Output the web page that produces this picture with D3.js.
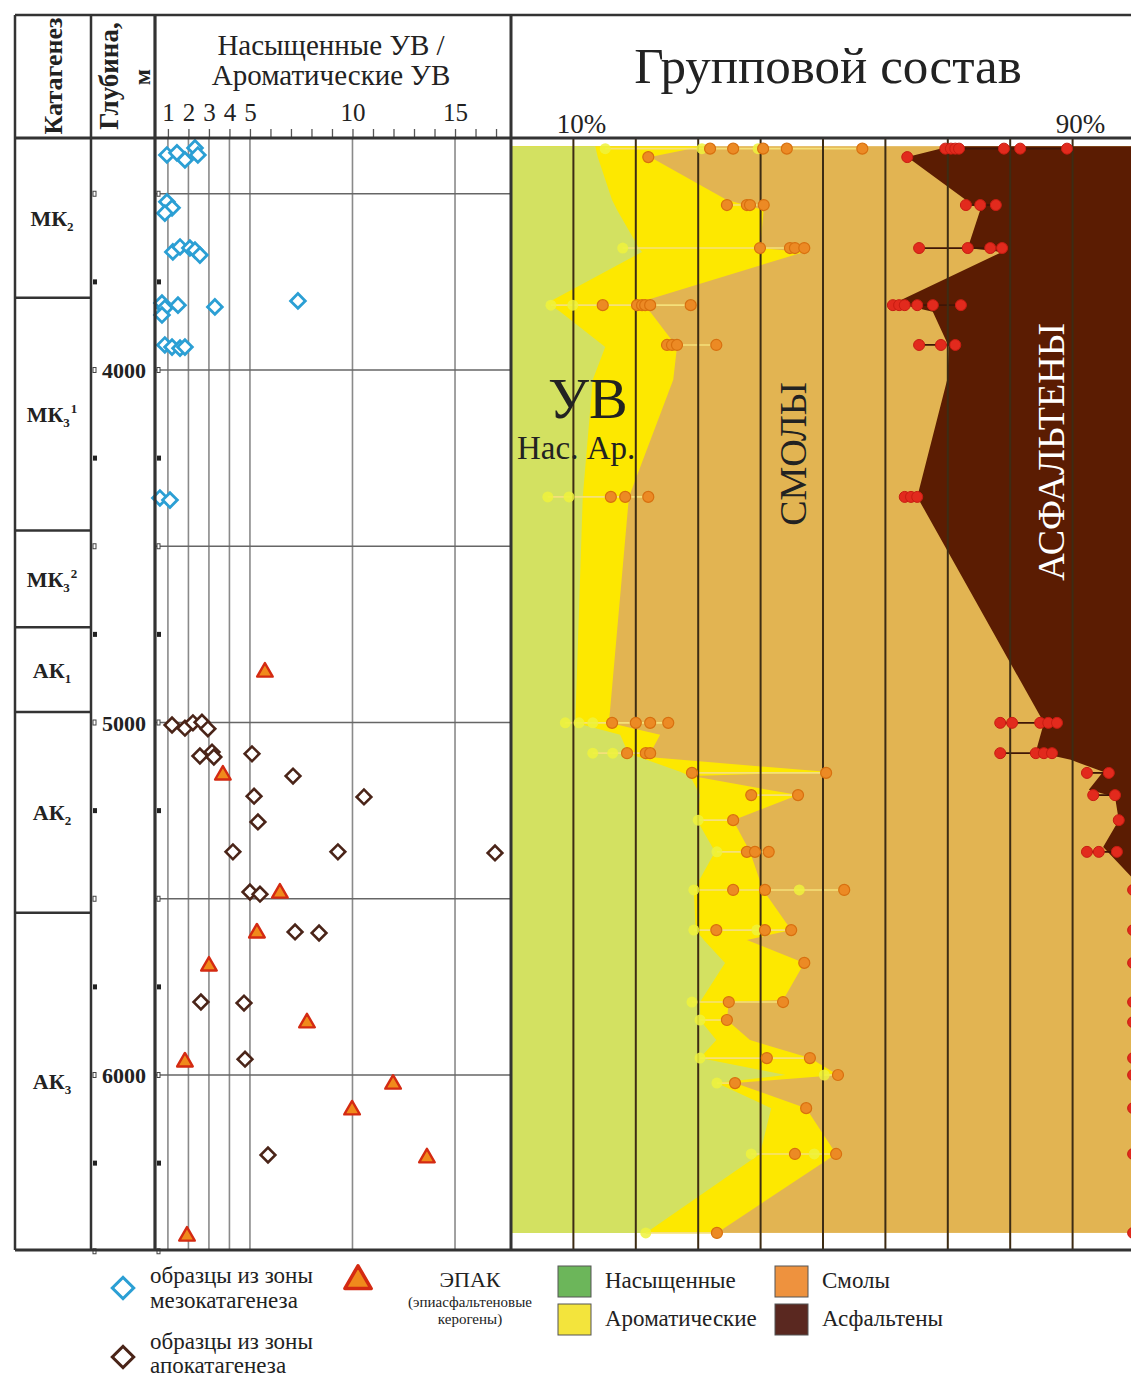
<!DOCTYPE html>
<html>
<head>
<meta charset="utf-8">
<script src="https://cdn.jsdelivr.net/npm/d3@7"></script>
<style>
  body { margin: 0; background: #fff; }
  svg { display: block; }
  text { font-family: "Liberation Serif", "Times New Roman", serif; fill: #222; }
</style>
</head>
<body>
<svg id="chart" width="1131" height="1377"></svg>
<script>
// ---- Catagenesis zones (depth, m) ----
const zoneTop    = [3341, 3795, 4455, 4730, 4970, 5540];
const zoneBottom = [3795, 4455, 4730, 4970, 5540, 6496];
const zoneBase   = ["МК", "МК", "МК", "АК", "АК", "АК"];
const zoneSub    = ["2", "3", "3", "1", "2", "3"];
const zoneSup    = ["", "1", "2", "", "", ""];

// ---- Axis ticks ----
const depthLabels = [4000, 5000, 6000];
const depthMarks  = [3500, 3750, 4000, 4250, 4500, 4750, 5000, 5250, 5500, 5750, 6000, 6250, 6500];
const depthGrid   = [3500, 4000, 4500, 5000, 5500, 6000];
const ratioTicks  = [1, 2, 3, 4, 5, 6, 7, 8, 9, 10, 11, 12, 13, 14, 15, 16, 17];
const ratioLabels = [1, 2, 3, 4, 5, 10, 15];
const ratioGrid   = [1, 2, 3, 4, 5, 10, 15];
const pctGrid     = [10, 20, 30, 40, 50, 60, 70, 80, 90];
const pctLabels   = [10, 90];

// ---- Saturated / aromatic HC ratio: [depth m, ratio] ----
const mesoSamples = [
  [3390, 0.95], [3384, 1.44], [3404, 1.83], [3370, 2.32], [3390, 2.46],
  [3523, 0.95], [3540, 1.20], [3555, 0.85],
  [3665, 1.24], [3651, 1.59], [3654, 2.07], [3660, 2.32], [3674, 2.56],
  [3810, 0.71], [3824, 0.85], [3844, 0.71], [3816, 1.49], [3821, 3.29], [3804, 7.34],
  [3929, 0.85], [3935, 1.20], [3938, 1.59], [3935, 1.83],
  [4363, 0.61], [4369, 1.10]
];
const apoSamples = [
  [5007, 1.20], [5016, 1.83], [5001, 2.22], [4999, 2.66], [5018, 2.95],
  [5095, 2.56], [5084, 3.15], [5098, 3.24], [5089, 5.10],
  [5152, 7.10], [5209, 5.20], [5211, 10.56], [5282, 5.39],
  [5367, 4.17], [5367, 9.29], [5370, 16.95],
  [5481, 5.00], [5487, 5.49], [5594, 7.20], [5597, 8.37],
  [5793, 2.61], [5796, 4.71], [5955, 4.76], [6227, 5.88]
];
const epakSamples = [
  [4857, 5.73], [5149, 3.68], [5484, 6.46], [5597, 5.34], [5691, 3.00],
  [5852, 7.78], [5963, 1.83], [6026, 11.98], [6099, 9.98], [6235, 13.63], [6457, 1.93]
];

// ---- Group composition, cumulative % boundaries: [depth m, %] ----
// saturates
const satEdge = [
  [3365, 13.5], [3396, 13.9], [3518, 16.2], [3546, 17.0], [3654, 20.5], [3665, 21.0],
  [3810, 5.8], [3835, 7.9], [3935, 15.1], [4028, 13.1], [4360, 11.5], [5001, 10.3],
  [5035, 17.5], [5087, 18.8], [5140, 27.1], [5152, 28.7], [5206, 30.3], [5277, 29.8],
  [5367, 32.7], [5475, 29.3], [5589, 29.6], [5617, 30.9], [5682, 34.3], [5793, 30.3],
  [5844, 30.3], [5901, 32.9], [5952, 30.3], [6000, 44.0], [6023, 33.0], [6094, 41.7],
  [6224, 39.9], [6448, 21.6]
];
// saturates + aromatics
const aroEdge = [
  [3365, 30.8], [3396, 22.3], [3518, 34.6], [3546, 40.5], [3654, 39.9], [3665, 47.0],
  [3810, 20.2], [3835, 22.3], [3935, 26.6], [4028, 26.0], [4360, 18.9], [5001, 15.7],
  [5035, 23.9], [5087, 22.3], [5098, 22.0], [5140, 50.5], [5152, 29.0], [5206, 46.0],
  [5277, 35.6], [5367, 38.3], [5475, 40.4], [5589, 44.9], [5617, 37.8], [5682, 47.0],
  [5787, 43.6], [5793, 34.9], [5844, 34.6], [5901, 38.3], [5952, 47.9], [6000, 52.4],
  [6023, 35.9], [6094, 47.3], [6224, 52.1], [6448, 33.0]
];
// saturates + aromatics + resins
const resEdge = [
  [3365, 70.4], [3396, 63.5], [3518, 72.9], [3546, 75.2], [3654, 73.2], [3665, 78.7],
  [3810, 61.5], [3835, 67.6], [3935, 70.2], [4028, 69.9], [4360, 65.1], [5001, 85.4],
  [5084, 84.1], [5106, 89.7], [5140, 94.9], [5191, 92.6], [5211, 96.8], [5277, 97.4],
  [5353, 94.9], [5438, 99.4], [5504, 99.7], [6448, 99.7]
];

// ---- Individual analyses (cumulative %) ----
const satPoints = [
  [3372, 15.1], [3372, 30.6], [3372, 39.6], [3654, 17.9], [3816, 6.4], [3816, 9.9],
  [4360, 5.9], [4360, 9.3], [5001, 8.7], [5001, 10.9], [5001, 13.1], [5087, 13.1], [5087, 16.3],
  [5277, 30.0], [5367, 33.0], [5475, 29.3], [5475, 46.2], [5589, 29.3], [5589, 39.4],
  [5793, 29.0], [5844, 30.3], [5952, 30.3], [6000, 50.2], [6023, 33.0],
  [6224, 38.5], [6224, 48.6], [6448, 21.6]
];
const aroPoints = [
  [3372, 31.9], [3372, 35.6], [3372, 40.4], [3372, 44.2], [3372, 56.3], [3396, 22.0],
  [3532, 34.6], [3532, 37.8], [3532, 38.3], [3532, 40.5],
  [3654, 39.9], [3654, 44.7], [3654, 45.5], [3654, 47.0],
  [3816, 14.7], [3816, 20.2], [3816, 21.0], [3816, 21.5], [3816, 22.3], [3816, 28.8],
  [3929, 25.0], [3929, 25.8], [3929, 26.6], [3929, 32.9],
  [4360, 16.0], [4360, 18.3], [4360, 22.0],
  [5001, 16.2], [5001, 20.0], [5001, 22.3], [5001, 25.2],
  [5087, 18.6], [5087, 21.6], [5087, 22.3],
  [5143, 29.0], [5143, 50.5], [5206, 38.5], [5206, 46.0], [5277, 35.6],
  [5367, 37.8], [5367, 39.1], [5367, 41.3],
  [5475, 35.6], [5475, 40.7], [5475, 53.4],
  [5589, 32.9], [5589, 40.7], [5589, 44.9],
  [5682, 47.0], [5793, 34.9], [5793, 43.6], [5844, 34.6],
  [5952, 41.0], [5952, 47.9], [6000, 52.4], [6023, 35.9], [6094, 47.3],
  [6224, 45.5], [6224, 52.1], [6448, 33.0]
];
const asphPoints = [
  [3372, 69.6], [3372, 70.5], [3372, 71.2], [3372, 71.8], [3372, 79.0], [3372, 81.6], [3372, 89.1],
  [3396, 63.5],
  [3532, 72.9], [3532, 75.2], [3532, 77.7],
  [3654, 65.4], [3654, 73.2], [3654, 76.8], [3654, 78.7],
  [3816, 61.2], [3816, 62.2], [3816, 63.1], [3816, 65.1], [3816, 67.6], [3816, 72.1],
  [3929, 65.4], [3929, 68.9], [3929, 71.2],
  [4360, 63.1], [4360, 64.1], [4360, 65.1],
  [5001, 78.4], [5001, 80.3], [5001, 84.8], [5001, 86.1], [5001, 87.5],
  [5087, 78.4], [5087, 84.1], [5087, 85.4], [5087, 86.7],
  [5143, 92.3], [5143, 95.8], [5206, 93.3], [5206, 96.8], [5277, 97.4],
  [5367, 92.3], [5367, 94.2], [5367, 97.1],
  [5475, 99.7], [5589, 99.7], [5682, 99.7], [5793, 99.7], [5850, 99.7],
  [5952, 99.7], [6000, 99.7], [6094, 99.7], [6224, 99.7], [6448, 99.7]
];

// ---- Legend entries ----
const groupNames  = ["Насыщенные", "Ароматические", "Смолы", "Асфальтены"];
const groupSwatch = ["#6cb65a", "#f3e43c", "#ee923e", "#5a2820"];

// ---- Colours ----
const C = {
  frame: "#333", grid: "#8a8a8a", pgrid: "#3d2c14",
  sat: "#d3e161", aro: "#fde800", res: "#e2b452", asph: "#5b1c02",
  meso: "#2b9fd4", apo: "#4a2418", epakFill: "#f08a1c", epakStroke: "#d42a12"
};

const svg = d3.select("#chart");
const TOP = 138, BOT = 1250;
const xL = 15, xD = 91, xS = 155, xR = 511, W = 1131;

const y  = d3.scaleLinear().domain([4000, 6000]).range([370, 1075]);
const xr = d3.scaleLinear().domain([0.37, 17.73]).range([xS, xR]);
const xp = d3.scaleLinear().domain([0, 100]).range([xR, 1135]);

const defs = svg.append("defs");
defs.append("clipPath").attr("id", "rpClip").append("rect")
  .attr("x", xR).attr("y", TOP).attr("width", W - xR).attr("height", BOT - TOP);

// ================= Group composition panel =================
const rp = svg.append("g").attr("clip-path", "url(#rpClip)");
const d0 = satEdge[0][0], d1 = satEdge[satEdge.length - 1][0];

rp.append("rect")
  .attr("x", xp(0)).attr("y", y(d0))
  .attr("width", xp(100) - xp(0)).attr("height", y(d1) - y(d0))
  .attr("fill", C.res);

rp.append("path").datum(resEdge)
  .attr("fill", C.asph)
  .attr("d", d3.area().y(d => y(d[0])).x0(d => xp(d[1])).x1(xp(100)));

rp.append("path").datum(aroEdge)
  .attr("fill", C.aro)
  .attr("d", d3.area().y(d => y(d[0])).x0(xp(0)).x1(d => xp(d[1])));

rp.append("path").datum(satEdge)
  .attr("fill", C.sat)
  .attr("d", d3.area().y(d => y(d[0])).x0(xp(0)).x1(d => xp(d[1])));

// replicate connectors
const hcRows = d3.groups(satPoints.concat(aroPoints), d => d[0]);
rp.append("g").selectAll("line").data(hcRows.filter(r => r[1].length > 1)).join("line")
  .attr("x1", r => xp(d3.min(r[1], d => d[1]))).attr("x2", r => xp(d3.max(r[1], d => d[1])))
  .attr("y1", r => y(r[0])).attr("y2", r => y(r[0]))
  .attr("stroke", "#f5e07a").attr("stroke-width", 1.6);
const asRows = d3.groups(asphPoints, d => d[0]);
rp.append("g").selectAll("line").data(asRows.filter(r => r[1].length > 1)).join("line")
  .attr("x1", r => xp(d3.min(r[1], d => d[1]))).attr("x2", r => xp(d3.max(r[1], d => d[1])))
  .attr("y1", r => y(r[0])).attr("y2", r => y(r[0]))
  .attr("stroke", "#3f1606").attr("stroke-width", 1.8);

// percentage grid
rp.append("g").selectAll("line").data(pctGrid).join("line")
  .attr("x1", d => xp(d)).attr("x2", d => xp(d))
  .attr("y1", TOP).attr("y2", BOT)
  .attr("stroke", C.pgrid).attr("stroke-width", 2);

rp.append("g").selectAll("circle").data(satPoints).join("circle")
  .attr("cx", d => xp(d[1])).attr("cy", d => y(d[0])).attr("r", 5.5)
  .attr("fill", "#eef23c").attr("fill-opacity", 0.85);
rp.append("g").selectAll("circle").data(aroPoints).join("circle")
  .attr("cx", d => xp(d[1])).attr("cy", d => y(d[0])).attr("r", 5.5)
  .attr("fill", "#ec8a24").attr("stroke", "#d8700f").attr("stroke-width", 1.2);
rp.append("g").selectAll("circle").data(asphPoints).join("circle")
  .attr("cx", d => xp(d[1])).attr("cy", d => y(d[0])).attr("r", 5.5)
  .attr("fill", "#e22a1d").attr("stroke", "#c81c12").attr("stroke-width", 1);

// in-panel labels
rp.append("text").attr("x", 548).attr("y", 418)
  .attr("font-size", 58).text("УВ");
rp.append("text").attr("x", 517).attr("y", 459)
  .attr("font-size", 33).text("Нас. Ар.");
rp.append("text").attr("transform", "translate(806,454) rotate(-90)")
  .attr("text-anchor", "middle").attr("font-size", 38).text("СМОЛЫ");
rp.append("text").attr("transform", "translate(1064,452) rotate(-90)")
  .attr("text-anchor", "middle").attr("font-size", 38).style("fill", "#fff").text("АСФАЛЬТЕНЫ");

svg.append("text").attr("x", 828).attr("y", 83).attr("text-anchor", "middle")
  .attr("font-size", 51).text("Групповой состав");
svg.append("g").selectAll("text").data(pctLabels).join("text")
  .attr("x", d => xp(d) + 8).attr("y", 133).attr("text-anchor", "middle")
  .attr("font-size", 27).text(d => d + "%");

// ================= Ratio scatter panel =================
const sp = svg.append("g");
sp.append("g").selectAll("line").data(ratioGrid).join("line")
  .attr("x1", d => xr(d)).attr("x2", d => xr(d)).attr("y1", TOP).attr("y2", BOT)
  .attr("stroke", C.grid).attr("stroke-width", 1.6);
sp.append("g").selectAll("line").data(depthGrid).join("line")
  .attr("x1", xS).attr("x2", xR).attr("y1", d => y(d)).attr("y2", d => y(d))
  .attr("stroke", "#666").attr("stroke-width", 1.6);

const topAxis = d3.axisTop(xr).tickValues(ratioTicks).tickSize(9).tickPadding(8)
  .tickFormat(d => ratioLabels.includes(d) ? d : "");
const ax = sp.append("g").attr("transform", `translate(0,${TOP})`).call(topAxis);
ax.select(".domain").remove();
ax.selectAll(".tick line").attr("stroke", "#555").attr("stroke-width", 1.3);
ax.selectAll(".tick text").attr("font-size", 25)
  .style("font-family", '"Liberation Serif", serif').style("fill", "#222");

sp.append("text").attr("x", 331).attr("y", 55).attr("text-anchor", "middle")
  .attr("font-size", 29).text("Насыщенные УВ /");
sp.append("text").attr("x", 331).attr("y", 85).attr("text-anchor", "middle")
  .attr("font-size", 29).text("Ароматические УВ");

const diamond = d3.symbol().type(d3.symbolSquare).size(108)();
const triangle = d3.symbol().type(d3.symbolTriangle).size(105)();

sp.append("g").selectAll("path").data(mesoSamples).join("path")
  .attr("d", diamond)
  .attr("transform", d => `translate(${xr(d[1])},${y(d[0])}) rotate(45)`)
  .attr("fill", "#fff").attr("stroke", C.meso).attr("stroke-width", 2.8);
sp.append("g").selectAll("path").data(apoSamples).join("path")
  .attr("d", diamond)
  .attr("transform", d => `translate(${xr(d[1])},${y(d[0])}) rotate(45)`)
  .attr("fill", "#fff").attr("stroke", C.apo).attr("stroke-width", 2.6);
sp.append("g").selectAll("path").data(epakSamples).join("path")
  .attr("d", triangle)
  .attr("transform", d => `translate(${xr(d[1])},${y(d[0])})`)
  .attr("fill", C.epakFill).attr("stroke", C.epakStroke).attr("stroke-width", 2.4)
  .attr("stroke-linejoin", "round");

// ================= Depth and catagenesis columns =================
const markG = svg.append("g");
[xD + 2, xS + 2].forEach(x0 => {
  markG.append("g").selectAll("rect").data(depthMarks).join("rect")
    .attr("x", x0).attr("y", d => y(d) - 2.5)
    .attr("width", d => d % 500 === 0 ? 3 : 4).attr("height", 5)
    .attr("fill", d => d % 500 === 0 ? "#fff" : "#222")
    .attr("stroke", "#444").attr("stroke-width", d => d % 500 === 0 ? 1 : 0);
});
svg.append("g").selectAll("text").data(depthLabels).join("text")
  .attr("x", 102).attr("y", d => y(d) + 8)
  .attr("font-size", 22).attr("font-weight", "bold").text(d => d);

const zoneG = svg.append("g");
zoneG.selectAll("line").data(zoneTop.slice(1)).join("line")
  .attr("x1", xL).attr("x2", xD).attr("y1", d => y(d)).attr("y2", d => y(d))
  .attr("stroke", C.frame).attr("stroke-width", 2.5);
const zl = zoneG.selectAll("text").data(zoneBase).join("text")
  .attr("x", 52).attr("y", (d, i) => (y(zoneTop[i]) + y(zoneBottom[i])) / 2 + 8)
  .attr("text-anchor", "middle").attr("font-size", 22).attr("font-weight", "bold");
zl.append("tspan").text(d => d);
zl.append("tspan").attr("font-size", 13).attr("dy", 5).text((d, i) => zoneSub[i]);
zl.append("tspan").attr("font-size", 13).attr("dy", -14).attr("dx", 1)
  .text((d, i) => zoneSup[i]);

svg.append("text").attr("transform", "translate(62,76) rotate(-90)")
  .attr("text-anchor", "middle").attr("font-size", 26).attr("font-weight", "bold").text("Катагенез");
svg.append("text").attr("transform", "translate(118,76) rotate(-90)")
  .attr("text-anchor", "middle").attr("font-size", 27).attr("font-weight", "bold").text("Глубина,");
svg.append("text").attr("transform", "translate(150,77) rotate(-90)")
  .attr("text-anchor", "middle").attr("font-size", 24).attr("font-weight", "bold").text("м");

// ================= Frame =================
const fr = svg.append("g").attr("stroke", C.frame).attr("fill", "none");
fr.append("line").attr("x1", xL).attr("x2", W).attr("y1", 15).attr("y2", 15).attr("stroke-width", 2.5);
fr.append("line").attr("x1", xL).attr("x2", W).attr("y1", TOP).attr("y2", TOP).attr("stroke-width", 3);
fr.append("line").attr("x1", xL).attr("x2", W).attr("y1", BOT).attr("y2", BOT).attr("stroke-width", 3);
[[xL, 2.5], [xD, 2.5], [xS, 3.2], [xR, 3]].forEach(([x, w]) =>
  fr.append("line").attr("x1", x).attr("x2", x).attr("y1", 15).attr("y2", BOT).attr("stroke-width", w));

// ================= Legend =================
const lg = svg.append("g");
const bigDiamond = d3.symbol().type(d3.symbolSquare).size(230)();
lg.append("path").attr("d", bigDiamond).attr("transform", "translate(123,1288) rotate(45)")
  .attr("fill", "#fff").attr("stroke", C.meso).attr("stroke-width", 3);
lg.append("path").attr("d", bigDiamond).attr("transform", "translate(123,1357) rotate(45)")
  .attr("fill", "#fff").attr("stroke", C.apo).attr("stroke-width", 3);
lg.append("path").attr("d", d3.symbol().type(d3.symbolTriangle).size(300)())
  .attr("transform", "translate(358,1281)")
  .attr("fill", C.epakFill).attr("stroke", C.epakStroke).attr("stroke-width", 3.5)
  .attr("stroke-linejoin", "round");

const legText = (x, yy, s, t, anchor) => lg.append("text").attr("x", x).attr("y", yy)
  .attr("font-size", s).attr("text-anchor", anchor || "start").text(t);
legText(150, 1283, 23, "образцы из зоны");
legText(150, 1308, 23, "мезокатагенеза");
legText(150, 1349, 23, "образцы из зоны");
legText(150, 1373, 23, "апокатагенеза");
legText(470, 1287, 22, "ЭПАК", "middle");
legText(470, 1307, 15, "(эпиасфальтеновые", "middle");
legText(470, 1324, 15, "керогены)", "middle");

const swX = [558, 558, 775, 775], swY = [1266, 1304, 1266, 1304];
lg.selectAll("rect.sw").data(groupNames).join("rect").attr("class", "sw")
  .attr("x", (d, i) => swX[i]).attr("y", (d, i) => swY[i])
  .attr("width", 33).attr("height", 31)
  .attr("fill", (d, i) => groupSwatch[i]).attr("stroke", "#555").attr("stroke-width", 1);
lg.selectAll("text.sw").data(groupNames).join("text").attr("class", "sw")
  .attr("x", (d, i) => swX[i] + 47).attr("y", (d, i) => swY[i] + 22)
  .attr("font-size", 23).text(d => d);
</script>
</body>
</html>
